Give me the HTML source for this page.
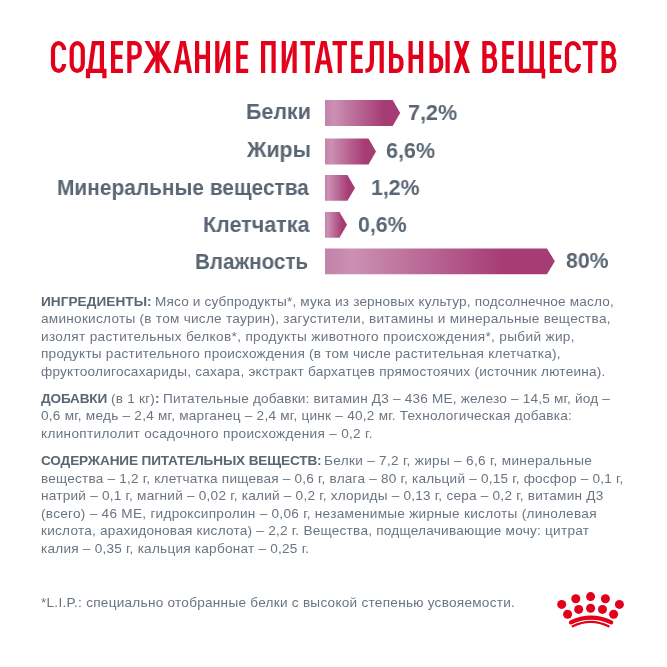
<!DOCTYPE html>
<html lang="ru"><head><meta charset="utf-8"><title>Содержание питательных веществ</title>
<style>
html,body{margin:0;padding:0;background:#fff;}
body{width:667px;height:667px;position:relative;overflow:hidden;font-family:"Liberation Sans",sans-serif;}
.t{position:absolute;white-space:pre;line-height:1;transform-origin:0 0;will-change:transform;}
.lb{color:#5a6673;font-weight:700;font-size:22.3px;}
.bd{color:#6a7581;font-size:13.6px;}
.bd b{color:#5a6673;font-weight:700;}
svg{position:absolute;left:0;top:0;}
</style></head><body>

<div class="t lb" style="left:246.16px;top:100.62px;transform:scaleX(0.9623)">Белки</div>
<div class="t lb" style="left:247.06px;top:138.82px;transform:scaleX(0.9610)">Жиры</div>
<div class="t lb" style="left:57.40px;top:176.92px;transform:scaleX(0.9362)">Минеральные вещества</div>
<div class="t lb" style="left:202.86px;top:214.02px;transform:scaleX(0.9652)">Клетчатка</div>
<div class="t lb" style="left:194.52px;top:250.92px;transform:scaleX(0.9251)">Влажность</div>
<div class="t lb" style="left:407.57px;top:101.92px;transform:scaleX(0.9679)">7,2%</div>
<div class="t lb" style="left:386.21px;top:140.22px;transform:scaleX(0.9651)">6,6%</div>
<div class="t lb" style="left:371.46px;top:176.92px;transform:scaleX(0.9542)">1,2%</div>
<div class="t lb" style="left:358.16px;top:213.72px;transform:scaleX(0.9563)">0,6%</div>
<div class="t lb" style="left:566.23px;top:250.32px;transform:scaleX(0.9528)">80%</div>
<div class="t bd" style="left:40.80px;top:294.89px;letter-spacing:0.064px"><b>ИНГРЕДИЕНТЫ:</b></div>
<div class="t bd" style="left:154.98px;top:294.89px;letter-spacing:0.170px"><span>Мясо и субпродукты*, мука из зерновых культур, подсолнечное масло,</span></div>
<div class="t bd" style="left:41.02px;top:312.39px;letter-spacing:0.267px"><span>аминокислоты (в том числе таурин), загустители, витамины и минеральные вещества,</span></div>
<div class="t bd" style="left:40.66px;top:329.89px;letter-spacing:0.344px"><span>изолят растительных белков*, продукты животного происхождения*, рыбий жир,</span></div>
<div class="t bd" style="left:40.66px;top:347.39px;letter-spacing:0.230px"><span>продукты растительного происхождения (в том числе растительная клетчатка),</span></div>
<div class="t bd" style="left:41.03px;top:364.89px;letter-spacing:0.245px"><span>фруктоолигосахариды, сахара, экстракт бархатцев прямостоячих (источник лютеина).</span></div>
<div class="t bd" style="left:40.68px;top:391.99px;letter-spacing:-0.165px"><b>ДОБАВКИ</b></div>
<div class="t bd" style="left:110.96px;top:391.99px;letter-spacing:0.227px"><span>(в 1 кг)</span></div>
<div class="t bd" style="left:154.79px;top:391.99px;letter-spacing:0.000px"><b>:</b></div>
<div class="t bd" style="left:163.40px;top:391.99px;letter-spacing:0.200px"><span>Питательные добавки: витамин Д3 – 436 МЕ, железо – 14,5 мг, йод –</span></div>
<div class="t bd" style="left:41.07px;top:409.49px;letter-spacing:0.249px"><span>0,6 мг, медь – 2,4 мг, марганец – 2,4 мг, цинк – 40,2 мг. Технологическая добавка:</span></div>
<div class="t bd" style="left:40.68px;top:426.99px;letter-spacing:0.318px"><span>клиноптилолит осадочного происхождения – 0,2 г.</span></div>
<div class="t bd" style="left:40.64px;top:454.49px;letter-spacing:-0.137px"><b>СОДЕРЖАНИЕ ПИТАТЕЛЬНЫХ ВЕЩЕСТВ:</b></div>
<div class="t bd" style="left:324.38px;top:454.49px;letter-spacing:0.309px"><span>Белки – 7,2 г, жиры – 6,6 г, минеральные</span></div>
<div class="t bd" style="left:40.66px;top:471.99px;letter-spacing:0.208px"><span>вещества – 1,2 г, клетчатка пищевая – 0,6 г, влага – 80 г, кальций – 0,15 г, фосфор – 0,1 г,</span></div>
<div class="t bd" style="left:40.66px;top:489.49px;letter-spacing:0.230px"><span>натрий – 0,1 г, магний – 0,02 г, калий – 0,2 г, хлориды – 0,13 г, сера – 0,2 г, витамин Д3</span></div>
<div class="t bd" style="left:40.76px;top:506.99px;letter-spacing:0.278px"><span>(всего) – 46 МЕ, гидроксипролин – 0,06 г, незаменимые жирные кислоты (линолевая</span></div>
<div class="t bd" style="left:40.68px;top:524.49px;letter-spacing:0.241px"><span>кислота, арахидоновая кислота) – 2,2 г. Вещества, подщелачивающие мочу: цитрат</span></div>
<div class="t bd" style="left:40.68px;top:541.99px;letter-spacing:0.234px"><span>калия – 0,35 г, кальция карбонат – 0,25 г.</span></div>
<div class="t bd" style="left:41.38px;top:595.99px;letter-spacing:0.258px"><span>*L.I.P.: специально отобранные белки с высокой степенью усвояемости.</span></div>
<svg width="667" height="667" viewBox="0 0 667 667">
<defs>
<linearGradient id="g0" gradientUnits="userSpaceOnUse" x1="325.0" y1="0" x2="400.2" y2="0"><stop offset="0" stop-color="#c283a9"/><stop offset="0.12" stop-color="#cb90b3"/><stop offset="0.78" stop-color="#a63c74"/><stop offset="1" stop-color="#a63c74"/></linearGradient>
<linearGradient id="g1" gradientUnits="userSpaceOnUse" x1="325.0" y1="0" x2="376.0" y2="0"><stop offset="0" stop-color="#c283a9"/><stop offset="0.12" stop-color="#cb90b3"/><stop offset="0.78" stop-color="#a63c74"/><stop offset="1" stop-color="#a63c74"/></linearGradient>
<linearGradient id="g2" gradientUnits="userSpaceOnUse" x1="325.0" y1="0" x2="355.0" y2="0"><stop offset="0" stop-color="#c283a9"/><stop offset="0.12" stop-color="#cb90b3"/><stop offset="0.78" stop-color="#a63c74"/><stop offset="1" stop-color="#a63c74"/></linearGradient>
<linearGradient id="g3" gradientUnits="userSpaceOnUse" x1="325.0" y1="0" x2="347.0" y2="0"><stop offset="0" stop-color="#c283a9"/><stop offset="0.12" stop-color="#cb90b3"/><stop offset="0.78" stop-color="#a63c74"/><stop offset="1" stop-color="#a63c74"/></linearGradient>
<linearGradient id="g4" gradientUnits="userSpaceOnUse" x1="325.0" y1="0" x2="554.8" y2="0"><stop offset="0" stop-color="#c283a9"/><stop offset="0.12" stop-color="#cb90b3"/><stop offset="0.78" stop-color="#a63c74"/><stop offset="1" stop-color="#a63c74"/></linearGradient>
</defs>
<path d="M325.0 100.1H392.7L400.2 113.0L392.7 125.9H325.0Z" fill="url(#g0)"/>
<path d="M325.0 138.5H368.5L376.0 151.45L368.5 164.4H325.0Z" fill="url(#g1)"/>
<path d="M325.0 175.1H347.4L355.0 187.95L347.4 200.8H325.0Z" fill="url(#g2)"/>
<path d="M325.0 212.0H339.5L347.0 224.85L339.5 237.7H325.0Z" fill="url(#g3)"/>
<path d="M325.0 248.4H547.0L554.8 261.3L547.0 274.2H325.0Z" fill="url(#g4)"/>
<path d="M 64.1 49.7 V 50.1 A 5.55 6.9 0 0 0 53 50.1 V 64 A 5.55 6.9 0 0 0 64.1 64 V 64.5 M 82.8 50.1 A 5.55 6.9 0 0 0 71.7 50.1 V 64 A 5.55 6.9 0 0 0 82.8 64 Z M 88 78.2 V 70.9 H 104.4 V 78.2 M 101.9 70.9 V 43.2 H 93.8 L 90 70.9 M 123 43.2 H 113.1 V 70.9 H 123 M 113.1 56.8 H 122.3 M 129.4 73 V 43.2 H 134.5 A 5.2 5.2 0 0 1 139.7 48.4 V 52.1 A 5.2 5.2 0 0 1 134.5 57.3 H 129.4 M 157.5 41.1 V 73 M 197.1 41.1 V 73 M 207.9 41.1 V 73 M 197.1 56.8 H 207.9 M 217.3 41.1 V 73 M 228.1 41.1 V 73 M 248.2 43.2 H 238.3 V 70.9 H 248.2 M 238.3 56.8 H 247.5 M 263.1 73 V 43.2 H 273.6 V 73 M 283.8 41.1 V 73 M 294.6 41.1 V 73 M 300.4 43.2 H 315 M 307.7 43.2 V 73 M 332.5 43.2 H 347 M 339.75 43.2 V 73 M 362.8 43.2 H 353.2 V 70.9 H 362.8 M 353.2 56.8 H 362.1 M 381.7 73 V 43.2 H 371.9 V 61 C 371.9 67 370.7 70.6 365.4 70.9 M 391.1 41.1 V 70.9 H 396.5 A 4.9 6 0 0 0 401.4 64.9 V 61.85 A 4.9 6 0 0 0 396.5 55.85 H 391.1 M 410.6 41.1 V 73 M 421.1 41.1 V 73 M 410.6 56.8 H 421.1 M 431.6 41.1 V 70.9 H 436.3 A 4.9 6 0 0 0 441.2 64.9 V 61.85 A 4.9 6 0 0 0 436.3 55.85 H 431.6 M 447.6 41.1 V 73 M 484.4 56.2 H 489.5 A 5 6.5 0 0 0 489.5 43.2 H 484.4 V 70.9 H 489.9 A 5.3 7.35 0 0 0 489.9 56.2 M 514 43.2 H 504.3 V 70.9 H 514 M 504.3 56.8 H 513.3 M 520.8 41.1 V 70.9 H 541.4 M 531.4 41.1 V 70.9 M 541.9 41.1 V 70.9 M 561.8 43.2 H 551.9 V 70.9 H 561.8 M 551.9 56.8 H 561.1 M 578.9 49.7 V 50.1 A 5.95 6.9 0 0 0 567 50.1 V 64 A 5.95 6.9 0 0 0 578.9 64 V 64.5 M 582.7 43.2 H 597.7 M 590.2 43.2 V 73 M 603.6 56.2 H 608.7 A 5 6.5 0 0 0 608.7 43.2 H 603.6 V 70.9 H 609.1 A 5.3 7.35 0 0 0 609.1 56.2" fill="none" stroke="#e2001a" stroke-width="4.2" stroke-linejoin="miter" stroke-miterlimit="6"/>
<g fill="#e2001a"><path d="M 144.5 41.1 H 149.3 L 158 56.8 L 148 73 H 143.2 L 153.2 56.8 Z"/><path d="M 170.5 41.1 H 165.7 L 157 56.8 L 167 73 H 171.8 L 161.8 56.8 Z"/><path d="M 173.7 73 L 180.2 41.1 H 185.7 L 192 73 H 187.5 L 182.95 45.4 L 178.2 73 Z"/><path d="M 179.02 60.35 H 186.88 V 64.45 H 179.02 Z"/><path d="M 219.2 73 V 63 L 226.2 41.1 V 51.1 Z"/><path d="M 285.7 73 V 63 L 292.7 41.1 V 51.1 Z"/><path d="M 314.5 73 L 321 41.1 H 326.5 L 332.8 73 H 328.3 L 323.75 45.4 L 319 73 Z"/><path d="M 319.82 60.35 H 327.68 V 64.45 H 319.82 Z"/><path d="M 453.9 41.1 H 458.8 L 470 73 H 465.1 Z"/><path d="M 469.6 41.1 H 464.7 L 453.5 73 H 458.4 Z"/><path d="M 539.4 68.8 H 545.2 V 78.5 H 541.6 V 73 H 539.4 Z"/></g>
<g fill="#e2001a">
<circle cx="575.8" cy="598.8" r="4.5"/>
<circle cx="590.6" cy="596.6" r="4.5"/>
<circle cx="605.4" cy="598.8" r="4.5"/>
<circle cx="561.7" cy="604.4" r="4.5"/>
<circle cx="619.4" cy="604.4" r="4.5"/>
<circle cx="578.7" cy="609.4" r="4.5"/>
<circle cx="590.6" cy="608.2" r="4.5"/>
<circle cx="602.5" cy="609.4" r="4.5"/>
<circle cx="567.6" cy="614.2" r="4.5"/>
<circle cx="613.6" cy="614.2" r="4.5"/>
</g>
<path d="M570.9 622.4Q590.9 613.0 611.2 622.4" fill="none" stroke="#e2001a" stroke-width="4.2" stroke-linecap="round"/>
<path d="M572.6 626.3Q590.7 617.5 608.7 626.3" fill="none" stroke="#e2001a" stroke-width="2.1" stroke-linecap="round"/>
</svg>
</body></html>
